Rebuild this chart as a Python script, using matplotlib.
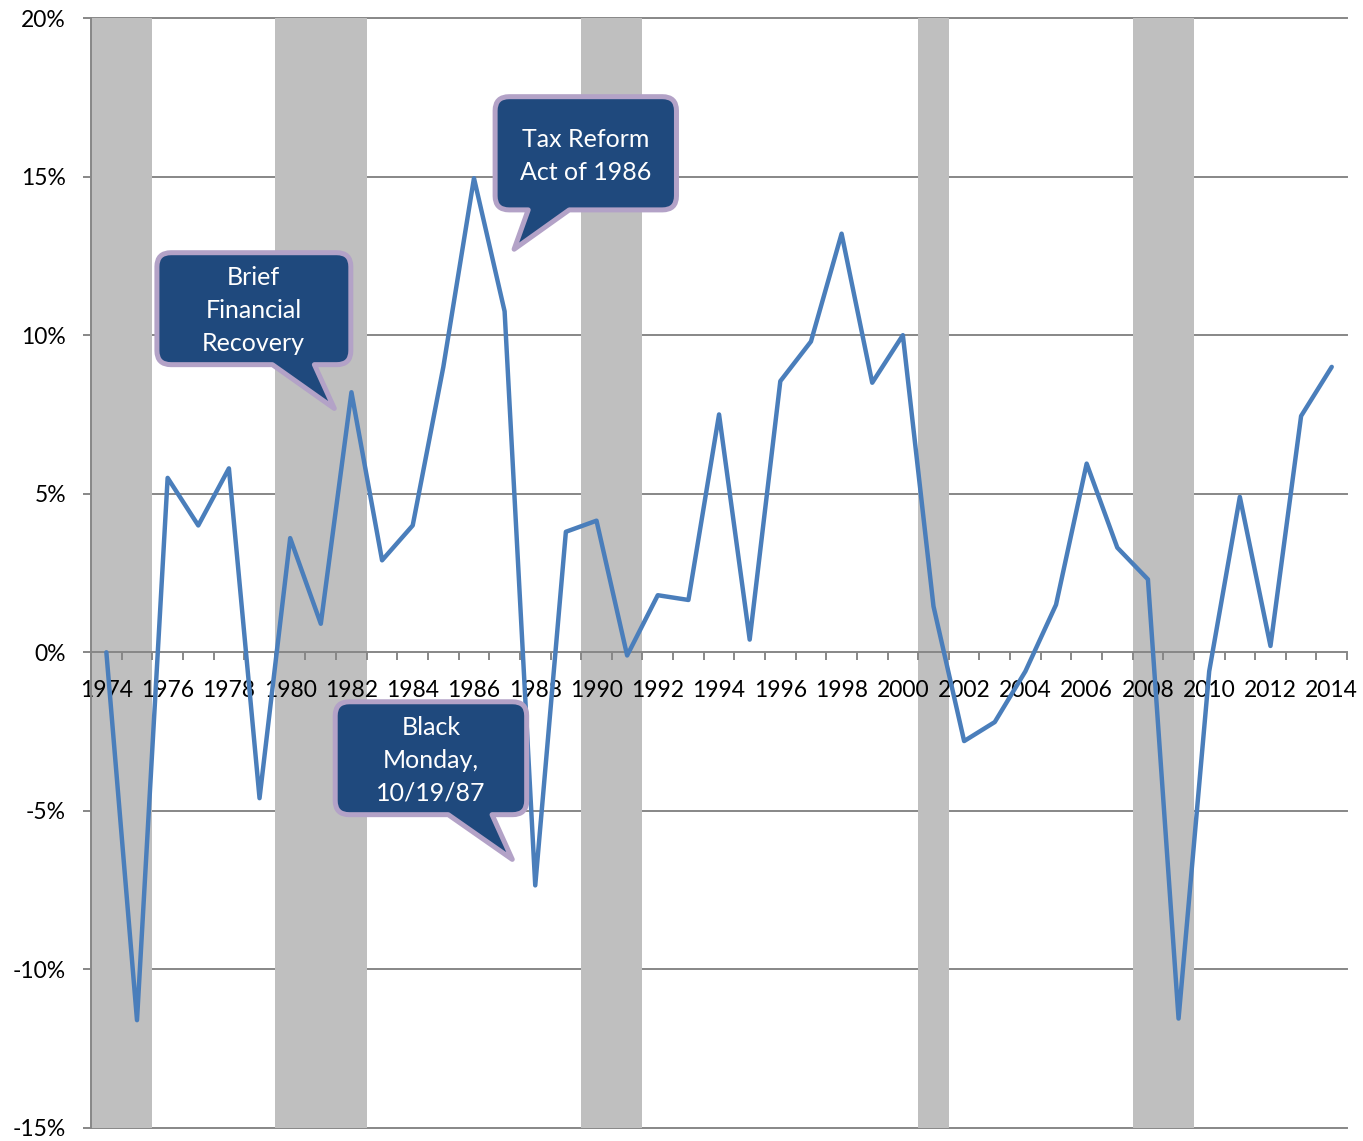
import matplotlib
matplotlib.use("Agg")
import matplotlib.pyplot as plt
from matplotlib.path import Path
from matplotlib.patches import PathPatch
from matplotlib.ticker import FixedLocator, FuncFormatter

plt.rcParams["font.family"] = ["Lato", "DejaVu Sans"]

# annual change, percent
years = list(range(1974, 2015))
pct = [0.0, -11.6, 5.5, 4.0, 5.8, -4.6, 3.6, 0.9, 8.2, 2.9,
       4.0, 9.0, 14.95, 10.75, -7.35, 3.8, 4.15, -0.1, 1.8, 1.65,
       7.5, 0.4, 8.55, 9.8, 13.2, 8.5, 10.0, 1.45, -2.8, -2.2,
       -0.6, 1.5, 5.95, 3.3, 2.3, -11.55, -0.6, 4.9, 0.2, 7.45, 9.0]
# recession years (first, last), shaded
recessions = [(1974, 1975), (1980, 1982), (1990, 1991), (2001, 2001), (2008, 2009)]
yticks = [-15, -10, -5, 0, 5, 10, 15, 20]

LINE = "#4A7EBB"
BAND = "#BFBFBF"
GRID = "#878787"
BOX_FILL = "#1F497D"
BOX_EDGE = "#B3A2C7"

# callouts: text, (x0, x1, y0, y1) box, tail base (xa, xb), tip, text centre
callouts = [
    ("Brief\nFinancial\nRecovery", (1975.65, 1981.98, 9.07, 12.60),
     (1979.42, 1980.79), (1981.44, 7.69), (1978.80, 10.78)),
    ("Tax Reform\nAct of 1986", (1986.69, 1992.61, 13.95, 17.52),
     (1987.77, 1989.11), (1987.31, 12.71), (1989.66, 15.66)),
    ("Black\nMonday,\n10/19/87", (1981.47, 1987.72, -5.12, -1.56),
     (1985.16, 1986.59), (1987.25, -6.53), (1984.60, -3.40)),
]


def callout(ax, text, box, tail, tip, center, rx=0.46, ry=0.44):
    x0, x1, y0, y1 = box
    verts = [(x0 + rx, y0), (tail[0], y0), tip, (tail[1], y0), (x1 - rx, y0),
             (x1, y0), (x1, y0 + ry), (x1, y1 - ry), (x1, y1), (x1 - rx, y1),
             (x0 + rx, y1), (x0, y1), (x0, y1 - ry), (x0, y0 + ry), (x0, y0),
             (x0 + rx, y0), (x0 + rx, y0)]
    codes = [Path.MOVETO, Path.LINETO, Path.LINETO, Path.LINETO, Path.LINETO,
             Path.CURVE3, Path.CURVE3, Path.LINETO, Path.CURVE3, Path.CURVE3,
             Path.LINETO, Path.CURVE3, Path.CURVE3, Path.LINETO, Path.CURVE3,
             Path.CURVE3, Path.CLOSEPOLY]
    ax.add_patch(PathPatch(Path(verts, codes), facecolor=BOX_FILL, edgecolor=BOX_EDGE,
                           lw=3.6, joinstyle="round", zorder=6, clip_on=False))
    ax.text(center[0], center[1], text, ha="center", va="center", color="white",
            fontsize=18, linespacing=1.52, zorder=7)


fig = plt.figure(figsize=(13.63, 11.41), dpi=100)
ax = fig.add_axes([0.0668, 0.0114, 0.9215, 0.9728])

# gridlines behind the shaded bands
for v in yticks:
    if v != 0:
        ax.axhline(v, color=GRID, lw=1.4, zorder=0.5, clip_on=False)

for a, b in recessions:
    ax.axvspan(a - 0.5, b + 0.5, color=BAND, lw=0, zorder=1)

ax.plot(years, pct, color=LINE, lw=3.2, solid_joinstyle="round",
        solid_capstyle="round", zorder=4)

ax.set_xlim(1973.5, 2014.5)
ax.set_ylim(-15, 20)
ax.set_axisbelow(False)

ax.yaxis.set_major_locator(FixedLocator(yticks))
ax.yaxis.set_major_formatter(FuncFormatter(lambda v, p: f"{v:.0f}%"))

ax.xaxis.set_major_locator(FixedLocator(years[::2]))
ax.xaxis.set_minor_locator(FixedLocator([y + 0.5 for y in range(1973, 2015)]))
ax.tick_params(axis="x", which="major", length=0, pad=20, labelsize=16.5)
ax.tick_params(axis="x", which="minor", length=6, width=1.4, color=GRID, direction="out")
ax.tick_params(axis="y", length=6, width=1.4, color=GRID, pad=12, labelsize=16.5)

for s in ("top", "right"):
    ax.spines[s].set_visible(False)
ax.spines["bottom"].set_position(("data", 0))
ax.spines["bottom"].set_color(GRID)
ax.spines["bottom"].set_linewidth(1.4)
ax.spines["bottom"].set_zorder(3)
ax.spines["left"].set_color(GRID)
ax.spines["left"].set_linewidth(1.4)
ax.spines["left"].set_zorder(3)

for c in callouts:
    callout(ax, *c)

fig.savefig("out.png", dpi=100)
